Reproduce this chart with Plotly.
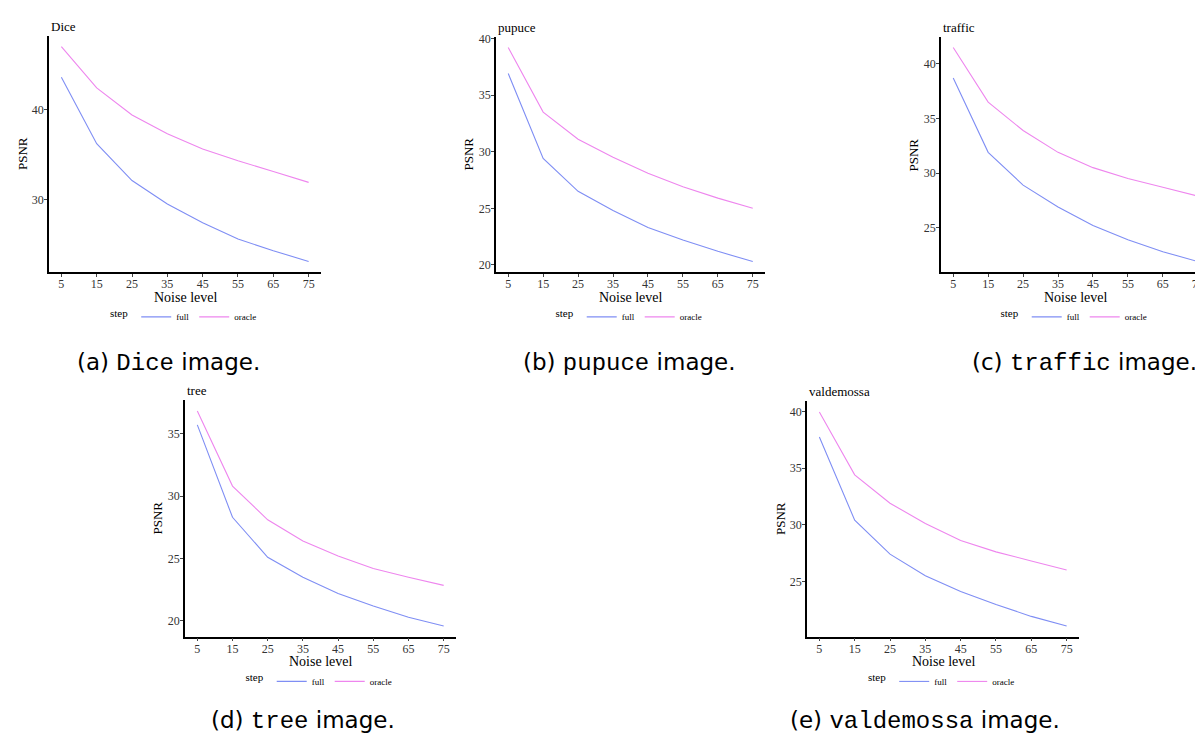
import plotly.graph_objects as go

# ---------------- data ----------------
noise = [5, 15, 25, 35, 45, 55, 65, 75]
x_ticks = [5, 15, 25, 35, 45, 55, 65, 75]

images = ["Dice", "pupuce", "traffic", "tree", "valdemossa"]
letters = ["a", "b", "c", "d", "e"]

dice_full = [43.6, 36.2, 32.1, 29.5, 27.4, 25.6, 24.3, 23.1]
dice_oracle = [47.0, 42.4, 39.4, 37.3, 35.6, 34.3, 33.1, 31.9]
pupuce_full = [36.9, 29.4, 26.5, 24.8, 23.3, 22.2, 21.2, 20.3]
pupuce_oracle = [39.2, 33.5, 31.1, 29.5, 28.1, 26.9, 25.9, 25.0]
traffic_full = [38.7, 31.9, 28.9, 26.9, 25.2, 23.9, 22.8, 21.9]
traffic_oracle = [41.5, 36.5, 33.9, 31.9, 30.5, 29.5, 28.7, 27.9]
tree_full = [35.7, 28.3, 25.1, 23.5, 22.2, 21.2, 20.3, 19.6]
tree_oracle = [36.8, 30.8, 28.1, 26.4, 25.2, 24.2, 23.5, 22.85]
valdemossa_full = [37.75, 30.4, 27.4, 25.5, 24.1, 22.95, 21.9, 21.05]
valdemossa_oracle = [39.95, 34.4, 31.9, 30.1, 28.6, 27.6, 26.8, 26.0]

full_series = [dice_full, pupuce_full, traffic_full, tree_full, valdemossa_full]
oracle_series = [dice_oracle, pupuce_oracle, traffic_oracle, tree_oracle, valdemossa_oracle]
y_dticks = [10, 5, 5, 5, 5]

# ---------------- layout (pixel boxes of each panel) ----------------
W, H = 1203, 735
# (left, right, top, bottom) in pixels
boxes = [
    (41, 313, 23, 261),
    (488, 757, 24, 261),
    (933, 1202, 24, 261),
    (177, 448, 390, 628),
    (799, 1071, 391, 628),
]
caption_centers = [(160, 352), (621, 352), (1076, 352), (295, 713), (917, 713)]

C_FULL = "#7f8ef4"
C_ORACLE = "#ee86ee"
SERIF = "Liberation Serif"
SANS = "DejaVu Sans"
MONO = "Liberation Mono"


def px(x):
    return x / W


def py(y):
    return 1 - y / H


fig = go.Figure()
annotations = []
layout_extra = {}

for i, name in enumerate(images):
    l, r, t, b = boxes[i]
    ax = "" if i == 0 else str(i + 1)
    xa, ya = "x" + ax, "y" + ax
    lg = "legend" if i == 0 else "legend" + str(i + 1)
    fig.add_trace(go.Scatter(x=noise, y=full_series[i], mode="lines", name="full",
                             line=dict(color=C_FULL, width=1.1), xaxis=xa, yaxis=ya,
                             legend=lg))
    fig.add_trace(go.Scatter(x=noise, y=oracle_series[i], mode="lines", name="oracle",
                             line=dict(color=C_ORACLE, width=1.1), xaxis=xa, yaxis=ya,
                             legend=lg))

    allv = full_series[i] + oracle_series[i]
    lo, hi = min(allv), max(allv)
    pad = 0.05 * (hi - lo)

    common = dict(showgrid=False, zeroline=False, showline=True, linecolor="black",
                  linewidth=1.5, ticks="outside", ticklen=3, tickwidth=1,
                  tickcolor="#444",
                  tickfont=dict(family=SERIF, size=12, color="#333"))
    layout_extra["xaxis" + ax] = dict(common, domain=[px(l), px(r)], range=[1.5, 78.5],
                                      tickmode="array", tickvals=x_ticks,
                                      ticktext=[str(v) for v in x_ticks],
                                      ticklabelstandoff=-3, anchor=ya)
    layout_extra["yaxis" + ax] = dict(common, domain=[py(b), py(t)],
                                      range=[lo - pad, hi + pad], dtick=y_dticks[i],
                                      ticklabelstandoff=-2, anchor=xa)

    cx = (l + r) / 2
    # panel title
    annotations.append(dict(text=name, x=px(l), y=py(t), xref="paper", yref="paper",
                            xanchor="left", yanchor="bottom", showarrow=False, yshift=0,
                            font=dict(family=SERIF, size=13, color="black")))
    # axis titles
    annotations.append(dict(text="Noise level", x=px(cx), y=py(b + 25), xref="paper",
                            yref="paper", xanchor="center", yanchor="middle",
                            showarrow=False, font=dict(family=SERIF, size=14, color="black")))
    annotations.append(dict(text="PSNR", x=px(l - 27), y=py((t + b) / 2), xref="paper",
                            yref="paper", xanchor="center", yanchor="middle", textangle=-90,
                            showarrow=False, font=dict(family=SERIF, size=13, color="black")))
    # caption
    ccx, ccy = caption_centers[i]
    cap = ("(%s) <span style=\"font-family:%s;font-size:24px\">%s</span> image."
           % (letters[i], MONO, name))
    annotations.append(dict(text=cap, x=px(ccx), y=py(ccy), xref="paper", yref="paper",
                            xanchor="center", yanchor="middle", showarrow=False,
                            font=dict(family=SANS, size=23, color="black")))
    # legend
    layout_extra[lg] = dict(orientation="h", x=px(cx), xanchor="center",
                            y=py(b + 45), yanchor="middle", itemwidth=30,
                            title=dict(text="step", side="left",
                                       font=dict(family=SERIF, size=11, color="black")),
                            font=dict(family=SERIF, size=9, color="black"),
                            bgcolor="rgba(0,0,0,0)", tracegroupgap=0)

fig.update_layout(width=W, height=H, margin=dict(l=0, r=0, t=0, b=0),
                  paper_bgcolor="white", plot_bgcolor="white",
                  annotations=annotations, showlegend=True, **layout_extra)

fig.write_html("out.html")
